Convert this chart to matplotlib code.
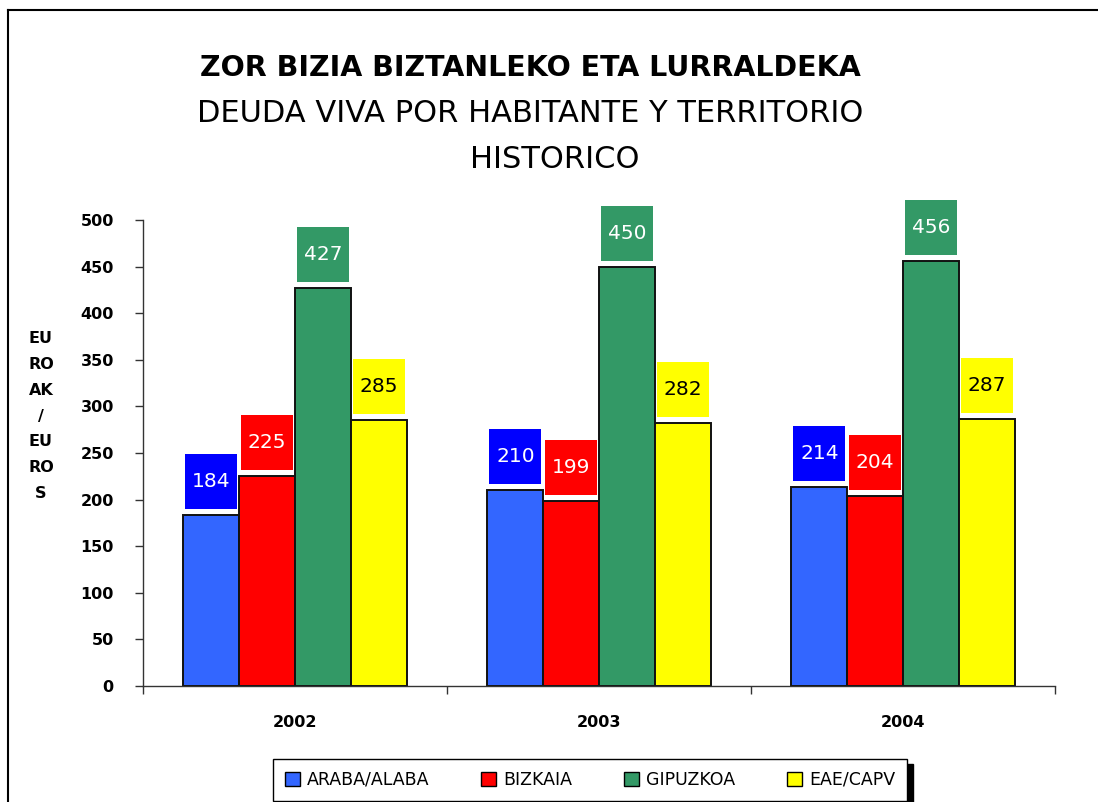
import matplotlib
matplotlib.use("Agg")
import matplotlib.pyplot as plt
from matplotlib.lines import Line2D
from matplotlib.patches import Rectangle
import numpy as np

years = ["2002", "2003", "2004"]
series_names = ["ARABA/ALABA", "BIZKAIA", "GIPUZKOA", "EAE/CAPV"]
araba = [184, 210, 214]
bizkaia = [225, 199, 204]
gipuzkoa = [427, 450, 456]
eae = [285, 282, 287]
yticks = list(range(0, 501, 50))

bar_colors = ["#3366FF", "#FF0000", "#339966", "#FFFF00"]
box_colors = ["#0000FF", "#FF0000", "#339966", "#FFFF00"]
text_colors = ["white", "white", "white", "black"]

plt.rcParams['font.family'] = ['DejaVu Sans']

W, H = 1098, 802
fig = plt.figure(figsize=(W / 100, H / 100), dpi=100)
fig.patch.set_facecolor("white")

ax = fig.add_axes([143 / W, 1 - 686 / H, (1055 - 143) / W, (686 - 220) / H])

x = np.arange(len(years))
bw = 0.1835
series = [araba, bizkaia, gipuzkoa, eae]
px_per_unit = (686 - 220) / 500.0
box_w = 52 / 303.5
box_h = 55 / px_per_unit
gap = 6 / px_per_unit
for i, vals in enumerate(series):
    xs = x + (i - 1.5) * bw
    ax.bar(xs, vals, width=bw, color=bar_colors[i], edgecolor="#111111",
           linewidth=1.4, label=series_names[i], zorder=2)
    for xv, v in zip(xs, vals):
        ax.add_patch(Rectangle((xv - box_w / 2, v + gap), box_w, box_h,
                               facecolor=box_colors[i], edgecolor="none", zorder=3,
                               clip_on=False))
        ax.text(xv, v + gap + box_h / 2, str(v), ha="center", va="center",
                color=text_colors[i], fontsize=14.5, zorder=4, clip_on=False)

ax.set_xlim(-0.5, 2.5)
ax.set_ylim(0, 500)
ax.set_yticks(yticks)
ax.set_yticklabels([str(t) for t in yticks], fontsize=11.5, fontweight="bold")
ax.tick_params(axis="y", direction="out", length=6, width=1, pad=15, colors="#333333", labelcolor="black")
ax.set_xticks([-0.5, 0.5, 1.5, 2.5])
ax.set_xticklabels([])
ax.set_xticks(x, minor=True)
ax.set_xticklabels(years, minor=True, fontsize=11.5, fontweight="bold")
ax.tick_params(axis="x", which="major", direction="out", length=6, width=1, colors="#333333")
ax.tick_params(axis="x", which="minor", length=0, pad=21)
for s in ["top", "right"]:
    ax.spines[s].set_visible(False)
for s in ["left", "bottom"]:
    ax.spines[s].set_color("#333333")
    ax.spines[s].set_linewidth(1)

fig.text(41 / W, 1 - 416 / H, "EU\nRO\nAK\n/\nEU\nRO\nS", ha="center", va="center",
         fontsize=11.5, fontweight="bold", linespacing=1.9)

fig.text(530 / W, 1 - 68 / H, "ZOR BIZIA BIZTANLEKO ETA LURRALDEKA", ha="center", va="center",
         fontsize=20.5, fontweight="bold")
fig.text(530 / W, 1 - 113 / H, "DEUDA VIVA POR HABITANTE Y TERRITORIO", ha="center", va="center",
         fontsize=22)
fig.text(555 / W, 1 - 160 / H, "HISTORICO", ha="center", va="center", fontsize=22)

leg = fig.legend(loc="center", bbox_to_anchor=(590 / W, 1 - 780 / H), ncol=4,
                 frameon=True, fancybox=False,
                 shadow={"color": "black", "alpha": 1, "ox": 4, "oy": -4},
                 fontsize=12.5, handlelength=0.85, handleheight=0.85, handletextpad=0.4,
                 columnspacing=3.0, borderpad=0.7)
leg.get_frame().set_edgecolor("black")
leg.get_frame().set_linewidth(1)
for h in leg.legend_handles:
    h.set_edgecolor("black")
    h.set_linewidth(1)

fig.add_artist(Line2D([8 / W, 8 / W], [0, 1 - 10 / H], color="black", lw=1.5, transform=fig.transFigure))
fig.add_artist(Line2D([8 / W, 1], [1 - 10 / H, 1 - 10 / H], color="black", lw=1.5, transform=fig.transFigure))

fig.savefig("out.png", dpi=100)
